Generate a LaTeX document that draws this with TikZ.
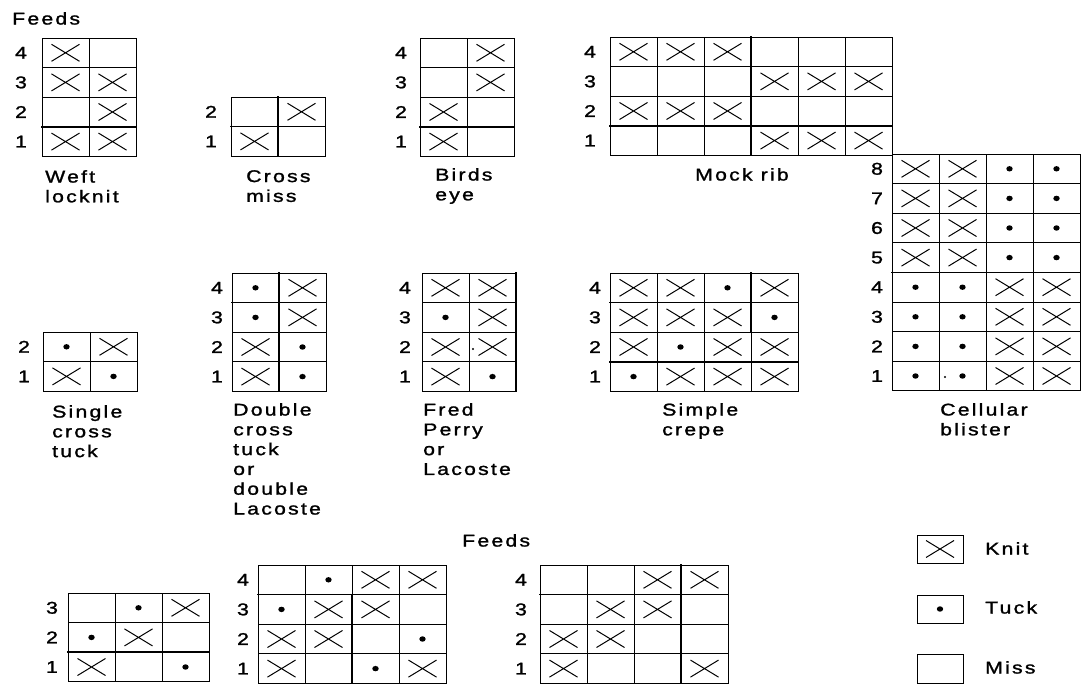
\documentclass[tikz,border=0pt]{standalone}
\usepackage{fontspec}
\newfontfamily\labfont{Liberation Sans}[FakeStretch=1.25,LetterSpace=13,FakeBold=1.4]
\def\cw{47}
\def\ch{29.6}
% #1 name, #2 left x, #3 top y, #4 label offset, #5 top row number, #6 rows (top to bottom)
\newcommand\knitgrid[6]{%
  \foreach \rowspec [count=\i from 0] in {#6} {%
    \pgfmathtruncatemacro\rn{#5-\i}%
    \pgfmathsetmacro\cy{#3+(\i+0.5)*\ch}%
    \node[rowlab] (#1-r\rn) at ({#2-#4},\cy) {\rn};%
    \foreach \c [count=\j from 0] in \rowspec {%
      \pgfmathsetmacro\cx{#2+(\j+0.5)*\cw}%
      \draw[gridline] ({\cx-\cw/2},{\cy-\ch/2}) rectangle ({\cx+\cw/2},{\cy+\ch/2});%
      \if\c K\draw[xmark] ({\cx-14},{\cy-8.5}) -- ({\cx+14},{\cy+8.5}) ({\cx-14},{\cy+8.5}) -- ({\cx+14},{\cy-8.5});\fi
      \if\c T\fill ({\cx},{\cy}) ellipse (3.2pt and 2.7pt);\fi
    }%
  }%
}
% horizontal heavy line: gx, gy, boundary k, col c1, col c2
\newcommand\hth[5]{\draw[thickline] ({#1+#4*\cw},{#2+#3*\ch}) -- ({#1+#5*\cw},{#2+#3*\ch});}
% vertical heavy line: gx, gy, boundary c, row r1, row r2
\newcommand\vth[5]{\draw[thickline] ({#1+#3*\cw},{#2+#4*\ch}) -- ({#1+#3*\cw},{#2+#5*\ch});}
\begin{document}
\begin{tikzpicture}[x=1pt,y=-1pt,
  gridline/.style={line width=0.9pt},
  thickline/.style={line width=1.7pt, line cap=rect},
  xmark/.style={line width=1pt},
  rowlab/.style={font=\labfont\fontsize{17}{18}\selectfont, inner sep=0pt, anchor=center},
  caption/.style={font=\labfont\fontsize{17}{19.8}\selectfont, inner sep=0pt, anchor=north west, align=left}]
\fill[white] (0,0) rectangle (1081,685);
\useasboundingbox (0,0) rectangle (1081,685);

% captions
\node[caption] (feeds-top) at (12,12) {Feeds};
\node[caption] (cap-wl) at (45,170) {Weft\\locknit};
\node[caption] (cap-cm) at (246,170) {Cross\\miss};
\node[caption] (cap-be) at (435,168) {Birds\\eye};
\node[caption] (cap-mr) at (695,168) {Mock rib};
\node[caption] (cap-sct) at (52,405) {Single\\cross\\tuck};
\node[caption] (cap-dct) at (233,403) {Double\\cross\\tuck\\or\\double\\Lacoste};
\node[caption] (cap-fp) at (423,403) {Fred\\Perry\\or\\Lacoste};
\node[caption] (cap-sc) at (662,403) {Simple\\crepe};
\node[caption] (cap-cb) at (940,403) {Cellular\\blister};
\node[caption] (feeds-bot) at (462,534) {Feeds};

% grids
\knitgrid{wl}{42}{38}{21}{4}{{K,M},{K,K},{M,K},{K,K}}
\knitgrid{cm}{231}{97}{20}{2}{{M,K},{K,M}}
\knitgrid{be}{420}{38}{19}{4}{{M,K},{M,K},{K,M},{K,M}}
\knitgrid{mr}{610}{37}{20}{4}{{K,K,K,M,M,M},{M,M,M,K,K,K},{K,K,K,M,M,M},{M,M,M,K,K,K}}
\knitgrid{cb}{892}{154}{15}{8}{{K,K,T,T},{K,K,T,T},{K,K,T,T},{K,K,T,T},{T,T,K,K},{T,T,K,K},{T,T,K,K},{T,T,K,K}}
\knitgrid{sct}{43}{332}{19}{2}{{T,K},{K,T}}
\knitgrid{dct}{232}{273}{15}{4}{{T,K},{T,K},{K,T},{K,T}}
\knitgrid{fp}{422}{273}{17}{4}{{K,K},{T,K},{K,K},{K,T}}
\knitgrid{sc}{610}{273}{15}{4}{{K,K,T,K},{K,K,K,T},{K,T,K,K},{T,K,K,K}}
\knitgrid{ba}{68}{593}{16}{3}{{M,T,K},{T,K,M},{K,M,T}}
\knitgrid{bb}{258}{565}{15}{4}{{M,T,K,K},{T,K,K,M},{K,K,M,T},{K,M,T,K}}
\knitgrid{bc}{540}{565}{19}{4}{{M,M,K,K},{M,K,K,M},{K,K,M,M},{K,M,M,K}}

% heavier repeat lines
\hth{42}{38}{3}{0}{2}
\hth{231}{97}{1}{0}{2} \vth{231}{97}{1}{0}{2}
\hth{420}{38}{3}{0}{2}
\hth{610}{37}{3}{0}{6} \vth{610}{37}{3}{0}{4}
\hth{892}{154}{4}{0}{4}
\hth{232}{273}{1}{0}{2} \vth{232}{273}{1}{0}{4}
\vth{422}{273}{2}{0}{4}
\hth{610}{273}{1}{0}{4} \hth{610}{273}{3}{0}{4} \vth{610}{273}{3}{0}{2}
\hth{68}{593}{2}{0}{3}
\hth{258}{565}{1}{0}{4} \vth{258}{565}{2}{1}{4}
\hth{540}{565}{1}{0}{4} \vth{540}{565}{3}{0}{4}

% small stray marks as printed
\fill (473,349) circle (1.2pt);
\fill (945,377) circle (1.1pt);

% legend
\draw[gridline] (917,535) rectangle (963,563);
\draw[xmark] (926,540.5) -- (954,557.5) (926,557.5) -- (954,540.5);
\draw[gridline] (917,595) rectangle (963,623);
\fill (940,609) ellipse (3.2pt and 2.7pt);
\draw[gridline] (917,654) rectangle (963,683);
\node[caption] (leg-knit) at (985,542) {Knit};
\node[caption] (leg-tuck) at (985,601) {Tuck};
\node[caption] (leg-miss) at (985,661) {Miss};
\end{tikzpicture}
\end{document}
